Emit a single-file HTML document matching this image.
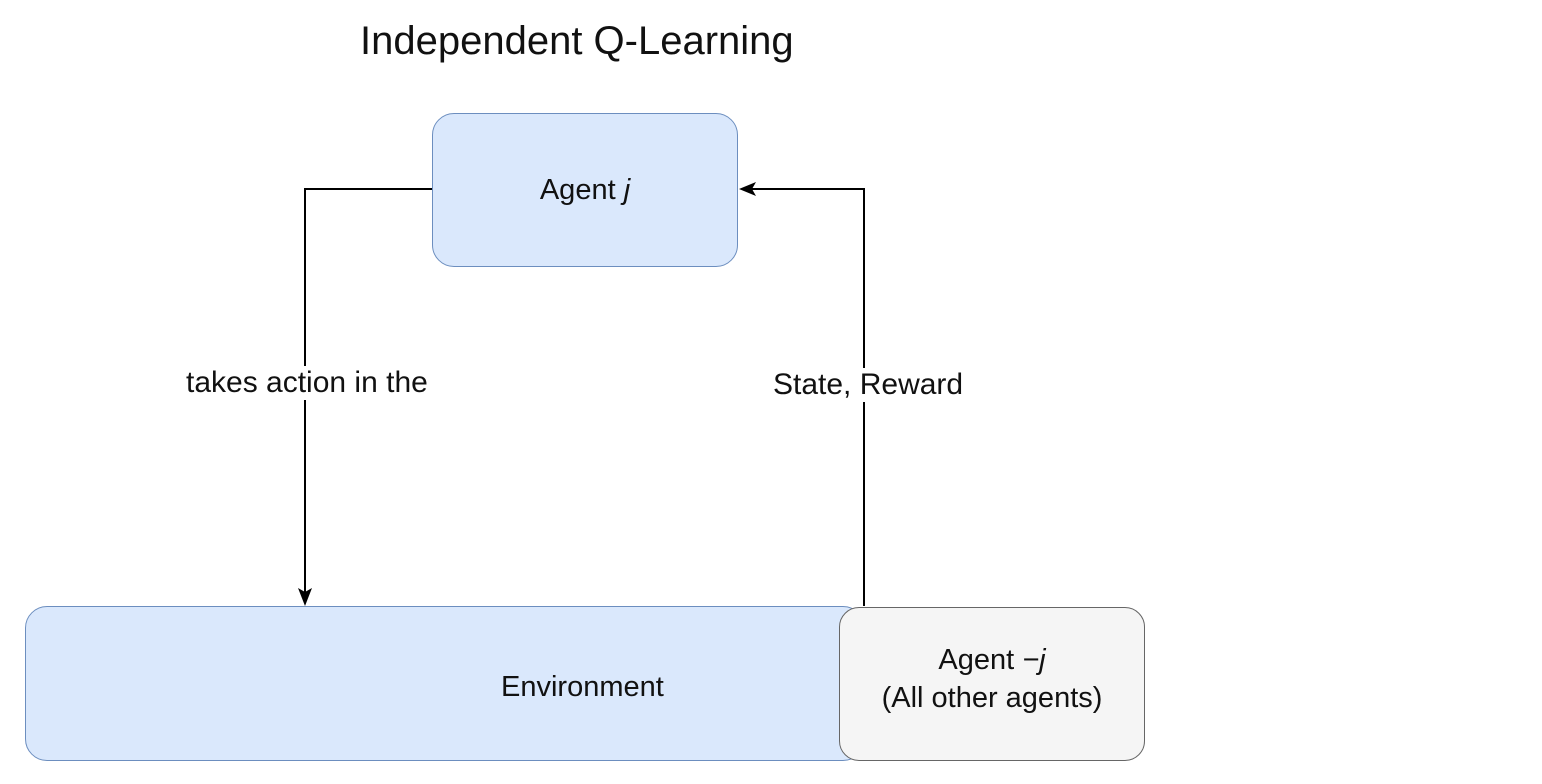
<!DOCTYPE html>
<html><head><meta charset="utf-8"><style>
body{margin:0;width:1542px;height:784px;background:#fff;position:relative;overflow:hidden;font-family:"Liberation Sans",sans-serif;color:#111}
.b{position:absolute;box-sizing:border-box;display:flex;align-items:center;justify-content:center;text-align:center}
.t{position:absolute;white-space:nowrap;background:#fff;font-size:30px;line-height:34px}
</style></head><body>
<div class="t" style="left:360px;top:18px;font-size:40px;line-height:46px;background:none">Independent Q-Learning</div>
<svg width="1542" height="784" style="position:absolute;left:0;top:0">
<polyline points="432,189 305,189 305,592" fill="none" stroke="#000" stroke-width="2"/>
<polygon points="298,588 305,606 312,588 305,592" fill="#000"/>
<polyline points="864,606 864,189 752,189" fill="none" stroke="#000" stroke-width="2"/>
<polygon points="756,182 739,189 756,196 752,189" fill="#000"/>
</svg>
<div class="b" style="left:432px;top:113px;width:306px;height:154px;background:#dae8fc;border:1.5px solid #6c8ebf;border-radius:22px;font-size:29px">Agent&nbsp;<i>j</i></div>
<div class="b" style="left:25px;top:606px;width:840px;height:155px;background:#dae8fc;border:1.5px solid #6c8ebf;border-radius:22px;font-size:29px;padding-top:6px"><span style="position:absolute;left:475px;top:64px">Environment</span></div>
<div class="b" style="left:839px;top:607px;width:306px;height:154px;background:#f5f5f5;border:1.5px solid #666;border-radius:20px;font-size:29px;line-height:38px;flex-direction:column;padding-bottom:10px"><div>Agent <i>−j</i></div><div>(All other agents)</div></div>
<div class="t" style="left:186px;top:366px">takes action in the</div>
<div class="t" style="left:773px;top:368px">State, Reward</div>
</body></html>
